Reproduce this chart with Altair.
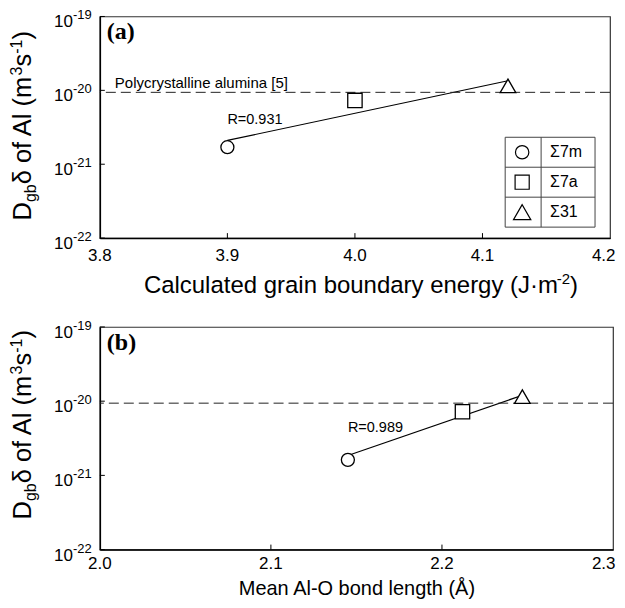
import altair as alt
import pandas as pd

# ---------------- data ----------------
boundary = ["Σ7m", "Σ7a", "Σ31"]
energy = [3.9, 4.0, 4.12]                 # J m^-2
d_energy = [1.7e-21, 7.3e-21, 1.15e-20]   # Dgb*delta (m^3/s)
bond = [2.145, 2.212, 2.247]              # Angstrom
d_bond = [1.62e-21, 7.2e-21, 1.15e-20]
poly_ref = 9.4e-21                        # polycrystalline alumina [5]
fit_energy_x = [3.9, 4.12]
fit_energy_y = [2.1e-21, 1.35e-20]
fit_bond_x = [2.145, 2.247]
fit_bond_y = [1.85e-21, 1.2e-20]
r_energy = "R=0.931"
r_bond = "R=0.989"
r_energy_y = 3.5e-21
r_bond_y = 3.9e-21
y_exps = [-22, -21, -20, -19]
x_ticks_a = [3.8, 3.9, 4.0, 4.1, 4.2]
x_ticks_b = [2.0, 2.1, 2.2, 2.3]
shapes = ["circle", "square", "triangle-up"]
marker_sizes = [170, 245, 285]

FONT = "Liberation Sans"
SERIF = "Liberation Serif"
RIGHT_LIMIT = 516.5   # keeps the last x label inside the 625px page


def panel(xs, ys, fitx, fity, xdomain, xticks, tag, rtext, ry, width, height,
          label_pad, ytitle_center, xtitle=None, legend=False):
    xscale = alt.Scale(domain=xdomain, nice=False, zero=False)
    yscale = alt.Scale(type="log", domain=[1e-22, 1e-19], nice=False)
    xaxis_kw = dict(values=xticks, ticks=False, grid=False, labels=False,
                    domainColor="black", domainWidth=1.5)
    if xtitle is not None:
        xaxis = alt.Axis(title=xtitle, titleFont=FONT, titleFontSize=20,
                         titleFontWeight="normal", titleColor="black",
                         titleBaseline="alphabetic", titleY=45, **xaxis_kw)
    else:
        xaxis = alt.Axis(title=None, **xaxis_kw)
    yaxis = alt.Axis(title=None, labels=False, ticks=False, grid=False,
                     domainColor="black", domainWidth=1.5)

    df = pd.DataFrame({"x": xs, "y": ys, "b": boundary})
    fit = pd.DataFrame({"x": fitx, "y": fity})
    ref = pd.DataFrame({"y": [poly_ref]})
    xt = pd.DataFrame({"v": xticks[1:-1]})
    xl = pd.DataFrame({"v": xticks[:-1], "t": [f"{v:.1f}" for v in xticks[:-1]]})
    yt = pd.DataFrame({"v": [10.0 ** e for e in y_exps],
                       "base": ["10"] * len(y_exps),
                       "sup": [str(e) for e in y_exps]})

    layers = []
    layers.append(alt.Chart(fit).mark_line(color="black", strokeWidth=1.2).encode(
        x=alt.X("x:Q", scale=xscale, axis=xaxis),
        y=alt.Y("y:Q", scale=yscale, axis=yaxis)))
    layers.append(alt.Chart(ref).mark_rule(color="#222", strokeWidth=1,
                                           strokeDash=[10, 5]).encode(
        y=alt.Y("y:Q", scale=yscale)))
    layers.append(alt.Chart(df).mark_point(filled=True, fill="white",
                                           stroke="black", strokeWidth=1.3,
                                           opacity=1).encode(
        x=alt.X("x:Q", scale=xscale),
        y=alt.Y("y:Q", scale=yscale),
        shape=alt.Shape("b:N", scale=alt.Scale(domain=boundary, range=shapes), legend=None),
        size=alt.Size("b:N", scale=alt.Scale(domain=boundary, range=marker_sizes), legend=None)))
    # inward ticks
    layers.append(alt.Chart(xt).mark_rule(color="black", strokeWidth=1).encode(
        x=alt.X("v:Q", scale=xscale), y=alt.value(height), y2=alt.value(height - 5)))
    layers.append(alt.Chart(yt).mark_rule(color="black", strokeWidth=1).encode(
        y=alt.Y("v:Q", scale=yscale), x=alt.value(0), x2=alt.value(5)))
    # x tick labels
    layers.append(alt.Chart(xl).mark_text(align="center", baseline="top", font=FONT,
                                          fontSize=17, color="black").encode(
        x=alt.X("v:Q", scale=xscale), y=alt.value(height + label_pad), text="t:N"))
    layers.append(alt.Chart(ref).mark_text(text=f"{xticks[-1]:.1f}", align="right",
                                           baseline="top", font=FONT, fontSize=17,
                                           color="black").encode(
        x=alt.value(RIGHT_LIMIT), y=alt.value(height + label_pad)))
    # y tick labels 10^n
    layers.append(alt.Chart(yt).mark_text(align="right", baseline="alphabetic", dy=11,
                                          font=FONT, fontSize=17, color="black").encode(
        y=alt.Y("v:Q", scale=yscale), x=alt.value(-27), text="base:N"))
    layers.append(alt.Chart(yt).mark_text(align="left", baseline="alphabetic", dy=3,
                                          font=FONT, fontSize=13, color="black").encode(
        y=alt.Y("v:Q", scale=yscale), x=alt.value(-27), text="sup:N"))
    # rotated y title, composed of pieces (text, size, shift, width)
    pieces = [("D", 25.5, 0, 18.4), ("gb", 16, 5, 17.8), ("δ of Al (m", 25.5, 0, 109.1),
              ("3", 16, -9, 8.9), ("s", 25.5, 0, 12.75), ("-1", 16, -9, 14.2), (")", 25.5, 0, 8.5)]
    total = sum(p[3] for p in pieces)
    ystart = ytitle_center + total / 2
    cum = 0
    bx = -69
    for t, fs, sh, w in pieces:
        layers.append(alt.Chart(ref).mark_text(text=t, angle=270, align="left",
                                               baseline="alphabetic", font=FONT,
                                               fontSize=fs, color="black").encode(
            x=alt.value(bx + sh), y=alt.value(ystart - cum)))
        cum += w
    # panel tag
    layers.append(alt.Chart(ref).mark_text(text=tag, align="left", baseline="alphabetic",
                                           font=SERIF, fontSize=24, fontWeight="bold",
                                           color="black").encode(
        x=alt.value(7), y=alt.value(23)))
    # correlation text
    rdf = pd.DataFrame({"x": [xs[0]], "y": [ry], "t": [rtext]})
    layers.append(alt.Chart(rdf).mark_text(align="left", baseline="alphabetic",
                                           font=FONT, fontSize=14.5, color="black").encode(
        x=alt.X("x:Q", scale=xscale), y=alt.Y("y:Q", scale=yscale), text="t:N"))
    if legend:
        layers.append(alt.Chart(ref).mark_text(text="Polycrystalline alumina [5]", align="left",
                                               baseline="alphabetic", font=FONT, fontSize=15,
                                               color="black").encode(
            x=alt.value(15), y=alt.value(72)))
        # composite x title
        xp = [("Calculated grain boundary energy (J·m", 24, 0, 413.5),
              ("-2", 15, -9, 13.3), (")", 24, 0, 8.0)]
        tot = sum(p[3] for p in xp)
        sx = 261.5 - tot / 2
        c = 0
        for t, fs, sh, w in xp:
            layers.append(alt.Chart(ref).mark_text(text=t, align="left", baseline="alphabetic",
                                                   font=FONT, fontSize=fs, color="black").encode(
                x=alt.value(sx + c), y=alt.value(height + 55 + sh)))
            c += w
        # legend table
        L, R, M, T, B = 406, 496, 442, 121, 211
        layers.append(alt.Chart(ref).mark_rect(fill="white", stroke="#444", strokeWidth=1).encode(
            x=alt.value(L), x2=alt.value(R), y=alt.value(T), y2=alt.value(B)))
        layers.append(alt.Chart(ref).mark_rule(color="#444", strokeWidth=1).encode(
            x=alt.value(M), x2=alt.value(M), y=alt.value(T), y2=alt.value(B)))
        rowh = (B - T) / 3
        for i in range(1, 3):
            layers.append(alt.Chart(ref).mark_rule(color="#444", strokeWidth=1).encode(
                x=alt.value(L), x2=alt.value(R), y=alt.value(T + i * rowh), y2=alt.value(T + i * rowh)))
        for i, (nm, shp) in enumerate(zip(boundary, shapes)):
            cy = T + (i + 0.5) * rowh
            layers.append(alt.Chart(ref).mark_point(shape=shp, filled=True, fill="white",
                                                    stroke="black", strokeWidth=1.2,
                                                    size=[180, 200, 300][i], opacity=1).encode(
                x=alt.value(423), y=alt.value(cy)))
            layers.append(alt.Chart(ref).mark_text(text=nm, align="left", baseline="middle",
                                                   font=FONT, fontSize=16, color="black").encode(
                x=alt.value(451), y=alt.value(cy)))
    return alt.layer(*layers).properties(width=width, height=height)


pa = panel(energy, d_energy, fit_energy_x, fit_energy_y, [3.8, 4.2], x_ticks_a, "(a)",
           r_energy, r_energy_y, 511, 222, 10, 109.5, legend=True)
pb = panel(bond, d_bond, fit_bond_x, fit_bond_y, [2.0, 2.3], x_ticks_b, "(b)",
           r_bond, r_bond_y, 514, 223, 6, 98, xtitle="Mean Al-O bond length (Å)")

chart = alt.vconcat(pa, pb, spacing=20).properties(
    padding={"left": 0, "top": 0, "right": 0, "bottom": -1}).configure_view(
    stroke="#333", strokeWidth=1.2)

chart.save("out.html", embed_options={"renderer": "svg", "actions": False})
